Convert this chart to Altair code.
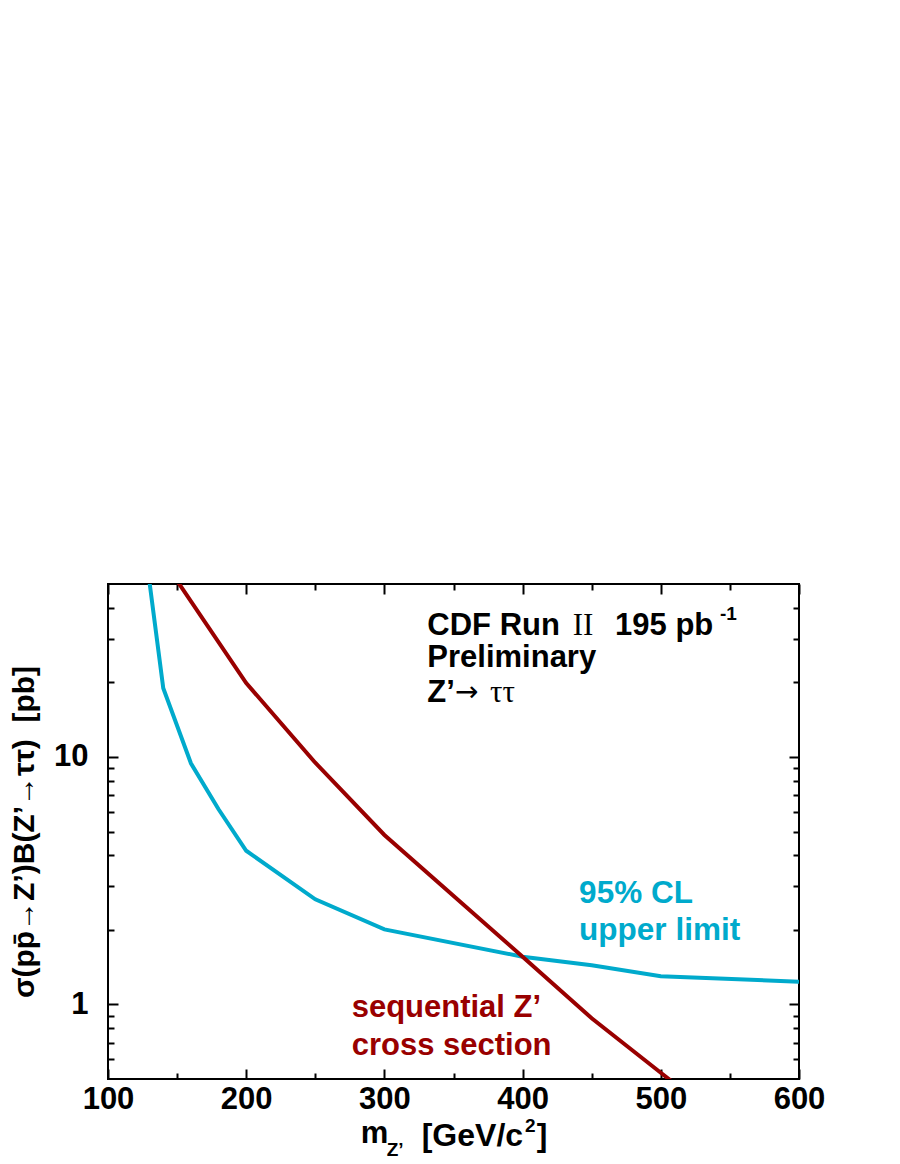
import altair as alt
import pandas as pd

# ---- data ----
mass_limit = [130, 140, 160, 180, 200, 250, 300, 400, 450, 500, 600]
xsec_limit = [51.0, 18.95, 9.43, 6.15, 4.18, 2.66, 2.01, 1.56, 1.44, 1.30, 1.236]

mass_seq = [150, 200, 250, 300, 400, 450, 500, 550]
xsec_seq = [51.5, 19.9, 9.48, 4.84, 1.56, 0.88, 0.53, 0.32]

x_major = [100, 200, 300, 400, 500, 600]
x_minor = [150, 250, 350, 450, 550]
y_major = [1, 10]
y_minor = [0.6, 0.7, 0.8, 0.9, 2, 3, 4, 5, 6, 7, 8, 9, 20, 30, 40]

# annotation texts (anchored in data coordinates)
big_text = ["CDF Run", "195 pb", "Preliminary", "Z’", "m"]
big_x = [331.05, 466.9, 331.05, 331.05, 282.85]
big_y = [31.1, 31.1, 23.1, 16.68, 0.2757]

unit_text = ["[GeV/c", "]"]
unit_x = [326.99, 410.2]
unit_y = [0.2681, 0.2681]

serif_text = ["II", "ττ"]
serif_x = [436.2, 376.5]
serif_y = [31.1, 16.68]

arrow_text = ["→"]
arrow_x = [351.0]
arrow_y = [16.9]

small_text = ["-1", "Z’", "2"]
small_x = [542.8, 301.67, 401.74]
small_y = [35.77, 0.2445, 0.3062]

blue_text = ["95% CL", "upper limit"]
blue_x = [440.9, 440.9]
blue_y = [2.578, 1.822]

red_text = ["sequential Z’", "cross section"]
red_x = [276.3, 276.3]
red_y = [0.8927, 0.6252]

BLUE = "#00AACC"
RED = "#990000"
FONT = "Liberation Sans"
SERIF = "Liberation Serif"

df_limit = pd.DataFrame({"mass": mass_limit, "xsec": xsec_limit})
df_seq = pd.DataFrame({"mass": mass_seq, "xsec": xsec_seq})

xs = alt.Scale(domain=[100, 600], nice=False, zero=False)
ys = alt.Scale(type="log", domain=[0.5, 50], nice=False)

main_x_axis = alt.Axis(
    orient="bottom", values=x_major, format="d", ticks=False, tickSize=0,
    domain=False, grid=False, labelFont=FONT, labelFontSize=31,
    labelFontWeight="bold", labelColor="black", labelPadding=5,
    labelFlush=False, title="",
)
main_y_axis = alt.Axis(
    orient="left", values=y_major, format="d", ticks=False, tickSize=0,
    domain=False, grid=False, labelFont=FONT, labelFontSize=31,
    labelFontWeight="bold", labelColor="black", labelPadding=20,
    title="σ(pp\u0304→Z’)B(Z’→ττ)\u00a0\u00a0[pb]",
    titleFont=FONT, titleFontSize=30, titleFontWeight="bold",
    titleColor="black", titleAngle=-90, titleX=-75, titleY=247.5,
    titleAlign="center", titleBaseline="alphabetic",
)

blue_line = alt.Chart(df_limit).mark_line(
    color=BLUE, strokeWidth=4, clip=True
).encode(
    x=alt.X("mass:Q", scale=xs, axis=main_x_axis),
    y=alt.Y("xsec:Q", scale=ys, axis=main_y_axis),
)

red_line = alt.Chart(df_seq).mark_line(
    color=RED, strokeWidth=4, clip=True
).encode(
    x=alt.X("mass:Q", scale=xs, axis=None),
    y=alt.Y("xsec:Q", scale=ys, axis=None),
)


def tick_axis(orient, values, size):
    return alt.Axis(
        orient=orient, values=values, labels=False, domain=False, grid=False,
        ticks=True, tickSize=size, tickWidth=2, tickColor="black",
        offset=-size, title="",
    )


def tick_layer(xo, xv, yo, yv, size):
    return alt.Chart(df_limit).mark_point(opacity=0).encode(
        x=alt.X("mass:Q", scale=xs, axis=tick_axis(xo, xv, size)),
        y=alt.Y("xsec:Q", scale=ys, axis=tick_axis(yo, yv, size)),
    )


t1 = tick_layer("bottom", x_major, "left", y_major, 10)
t2 = tick_layer("bottom", x_minor, "left", y_minor, 6)
t3 = tick_layer("top", x_major, "right", y_major, 10)
t4 = tick_layer("top", x_minor, "right", y_minor, 6)


def text_layer(texts, xv, yv, font, size, weight, color):
    d = pd.DataFrame({"label": texts, "tx": xv, "ty": yv})
    return alt.Chart(d).mark_text(
        align="left", baseline="alphabetic", font=font, fontSize=size,
        fontWeight=weight, color=color,
    ).encode(
        x=alt.X("tx:Q", scale=xs, axis=None),
        y=alt.Y("ty:Q", scale=ys, axis=None),
        text="label:N",
    )


txt_big = text_layer(big_text, big_x, big_y, FONT, 31, "bold", "black")
txt_unit = text_layer(unit_text, unit_x, unit_y, FONT, 32, "bold", "black")
txt_serif = text_layer(serif_text, serif_x, serif_y, SERIF, 31, "normal", "black")
txt_arrow = text_layer(arrow_text, arrow_x, arrow_y, "DejaVu Sans", 28, "normal", "black")
txt_small = text_layer(small_text, small_x, small_y, FONT, 19, "bold", "black")
txt_blue = text_layer(blue_text, blue_x, blue_y, FONT, 31.5, "bold", BLUE)
txt_red = text_layer(red_text, red_x, red_y, FONT, 31, "bold", RED)

chart = alt.layer(
    blue_line, red_line, t1, t2, t3, t4,
    txt_big, txt_unit, txt_serif, txt_arrow, txt_small, txt_blue, txt_red,
).resolve_axis(
    x="independent", y="independent"
).properties(
    width=691, height=495,
    padding={"left": 100, "top": 576, "right": 90, "bottom": 85},
    autosize=alt.AutoSizeParams(type="none"),
    background="white",
).configure_view(
    stroke="black", strokeWidth=2
)

chart.save("out.html", embed_options={"renderer": "svg", "actions": False})
